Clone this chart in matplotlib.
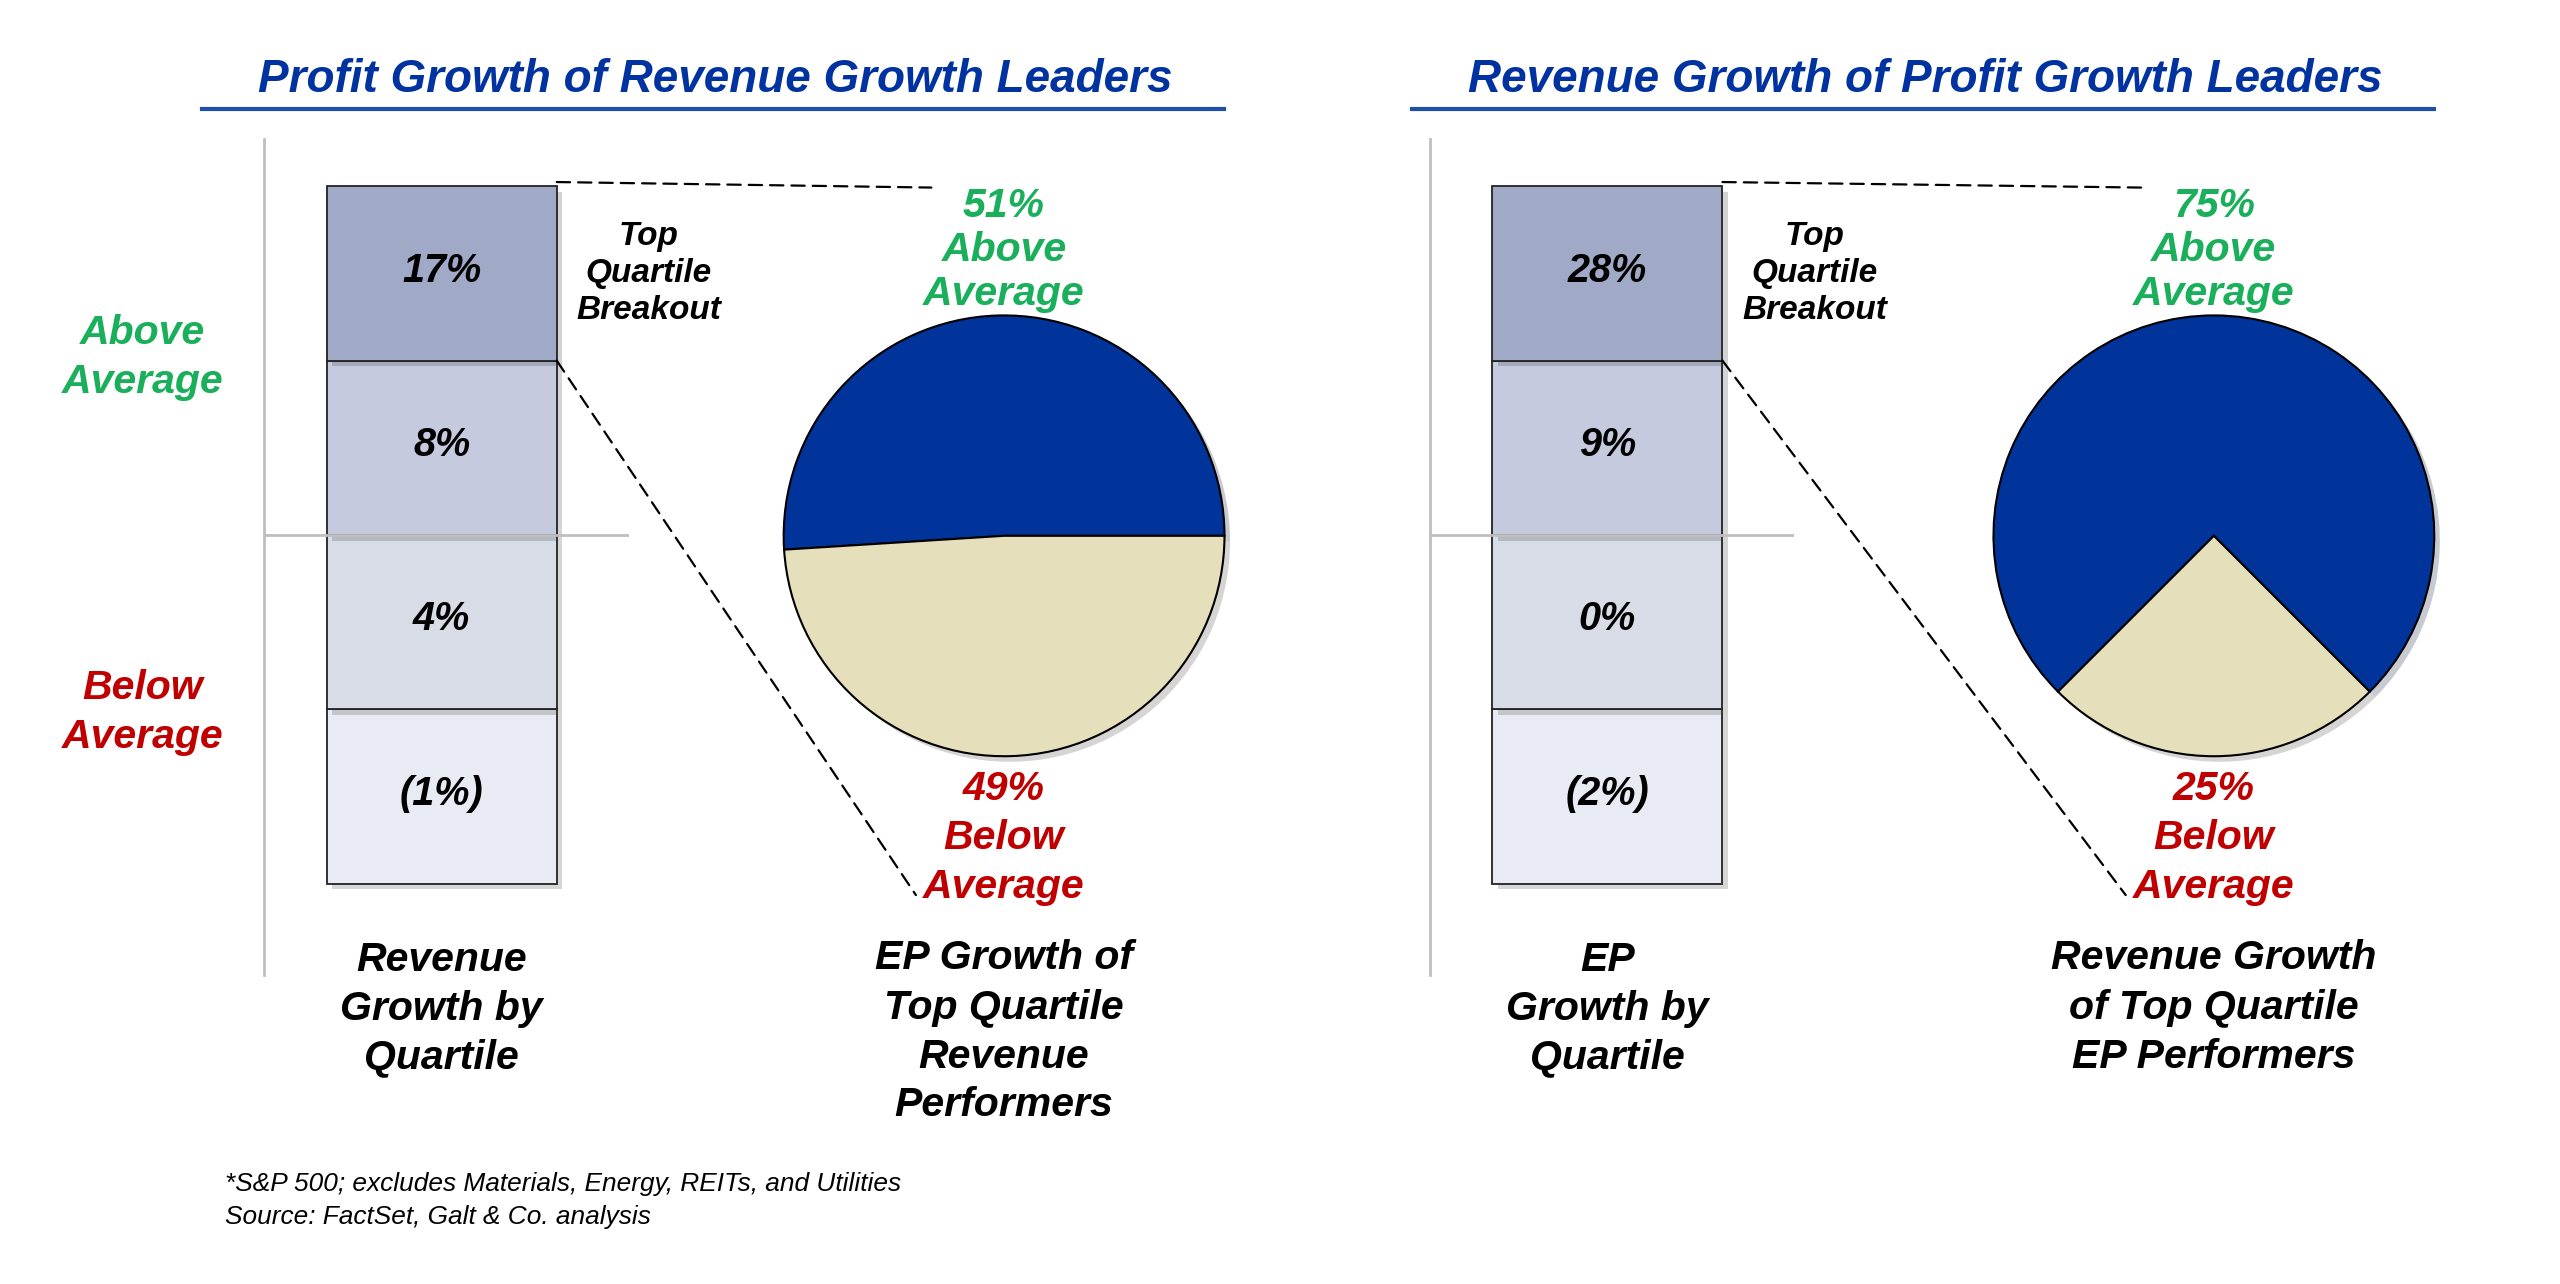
import matplotlib
matplotlib.use("Agg")
import matplotlib.pyplot as plt
import matplotlib.patheffects as pe
from matplotlib.lines import Line2D
from matplotlib.patches import ConnectionPatch

plt.rcParams['font.family'] = ['Liberation Sans', 'DejaVu Sans']

# ---- data ----
titles = ["Profit Growth of Revenue Growth Leaders",
          "Revenue Growth of Profit Growth Leaders"]
quartile_share = [25, 25, 25, 25]          # bottom -> top, each quartile
left_quartile_labels = ["(1%)", "4%", "8%", "17%"]
right_quartile_labels = ["(2%)", "0%", "9%", "28%"]
left_pie = [51, 49]                        # above, below average
right_pie = [75, 25]
bar_captions = ["Revenue\nGrowth by\nQuartile", "EP\nGrowth by\nQuartile"]
pie_captions = ["EP Growth of\nTop Quartile\nRevenue\nPerformers",
                "Revenue Growth\nof Top Quartile\nEP Performers"]
footnotes = ["*S&P 500; excludes Materials, Energy, REITs, and Utilities",
             "Source: FactSet, Galt & Co. analysis"]

# ---- style ----
seg_colors = ['#E8EBF3', '#D8DCE7', '#C5CADE', '#A0A9C6']
pie_colors = ['#00349A', '#E6DFBC']
title_blue = '#0033A0'
green = '#1AAF5A'
red = '#C00000'
gray = '#BFBFBF'

W, H = 1568.0, 786.0   # layout measured on a 1568x786 grid


def fx(x):
    return x / W


def fy(y):
    return 1 - y / H


fig = plt.figure(figsize=(25.6, 12.84), dpi=100)

shadow = [pe.SimplePatchShadow(offset=(4, -4), alpha=0.22), pe.Normal()]
bold_it = dict(fontweight='bold', fontstyle='italic')


def panel(dx, pie_dx, title, labels, pie_vals, start, bar_cap, pie_cap, side_labels):
    # title + underline
    fig.text(fx(438 + pie_dx), fy(49), title, ha='center', va='center',
             fontsize=33, color=title_blue, **bold_it)
    fig.add_artist(Line2D([fx(124 + pie_dx), fx(750 + pie_dx)], [fy(67), fy(67)],
                          color='#1F4FA8', lw=3))

    # quartile bar
    ppu = (541 - 114) / 100.0
    ax = fig.add_axes([fx(162 + dx), fy(597), (385 - 162) / W, (597 - 85) / H])
    ax.set_xlim(-0.5 - 38 / 141.0, 0.5 + 44 / 141.0)
    ax.set_ylim(-(597 - 541) / ppu, 100 + (114 - 85) / ppu)
    for s in ['top', 'right', 'bottom']:
        ax.spines[s].set_visible(False)
    ax.spines['left'].set_color(gray)
    ax.spines['left'].set_linewidth(2)
    ax.set_xticks([])
    ax.set_yticks([])
    ax.patch.set_alpha(0)
    ax.axhline(50, color=gray, lw=2, zorder=3)
    bottom = 0
    for share, lab, col in zip(quartile_share, labels, seg_colors):
        b = ax.bar(0, share, bottom=bottom, width=1, color=col,
                   edgecolor='#222222', linewidth=1.3, zorder=2)
        for p in b:
            p.set_path_effects(shadow)
        ax.text(0, bottom + share / 2 + 0.4, lab, ha='center', va='center', fontsize=28.5,
                color='black', zorder=4, **bold_it)
        bottom += share
    ax.text(0.9, 87.5, "Top\nQuartile\nBreakout", ha='center', va='center', fontsize=24,
            linespacing=1.26, clip_on=False, **bold_it)
    ax.text(0, -8.2, bar_cap, ha='center', va='top', fontsize=29.5,
            linespacing=1.36, clip_on=False, **bold_it)
    if side_labels:
        ax.text(-1.3, 75.5, "Above\nAverage", ha='center', va='center', fontsize=29.5,
                color=green, linespacing=1.36, clip_on=False, **bold_it)
        ax.text(-1.3, 24.5, "Below\nAverage", ha='center', va='center', fontsize=29.5,
                color=red, linespacing=1.36, clip_on=False, **bold_it)

    # pie
    cx, cy, r = 615 + pie_dx, 328, 135
    half = r * 1.1
    axp = fig.add_axes([fx(cx - half), fy(cy + half), 2 * half / W, 2 * half / H])
    wedges, _ = axp.pie(pie_vals, colors=pie_colors, startangle=start, counterclock=True,
                        wedgeprops=dict(edgecolor='black', linewidth=1.5))
    for w in wedges:
        w.set_path_effects(shadow)
    axp.set_xlim(-1.1, 1.1)
    axp.set_ylim(-1.1, 1.1)
    axp.text(0, 1.295, f"{pie_vals[0]}%\nAbove\nAverage", ha='center', va='center',
             fontsize=29.5, color=green, linespacing=1.2, clip_on=False, **bold_it)
    axp.text(0, -1.37, f"{pie_vals[1]}%\nBelow\nAverage", ha='center', va='center',
             fontsize=29.5, color=red, linespacing=1.36, clip_on=False, **bold_it)
    axp.text(0, -1.83, pie_cap, ha='center', va='top', fontsize=29.5,
             linespacing=1.36, clip_on=False, **bold_it)

    # dashed breakout lines
    for xyA, xyB in [((0.5, 100.6), (-0.33, 1.58)), ((0.5, 75), (-0.4, -1.63))]:
        con = ConnectionPatch(xyA=xyA, coordsA=ax.transData, xyB=xyB, coordsB=axp.transData,
                              color='black', lw=1.6, linestyle=(0, (6, 3.6)))
        fig.add_artist(con)


panel(0, 0, titles[0], left_quartile_labels, left_pie, 0, bar_captions[0], pie_captions[0], True)
panel(714, 741, titles[1], right_quartile_labels, right_pie, -45, bar_captions[1], pie_captions[1], False)

fig.text(fx(138), fy(725), footnotes[0], ha='left', va='center', fontsize=18.9,
         fontstyle='italic')
fig.text(fx(138), fy(745), footnotes[1], ha='left', va='center', fontsize=18.9,
         fontstyle='italic')

fig.savefig("out.png", dpi=100, facecolor='white')
